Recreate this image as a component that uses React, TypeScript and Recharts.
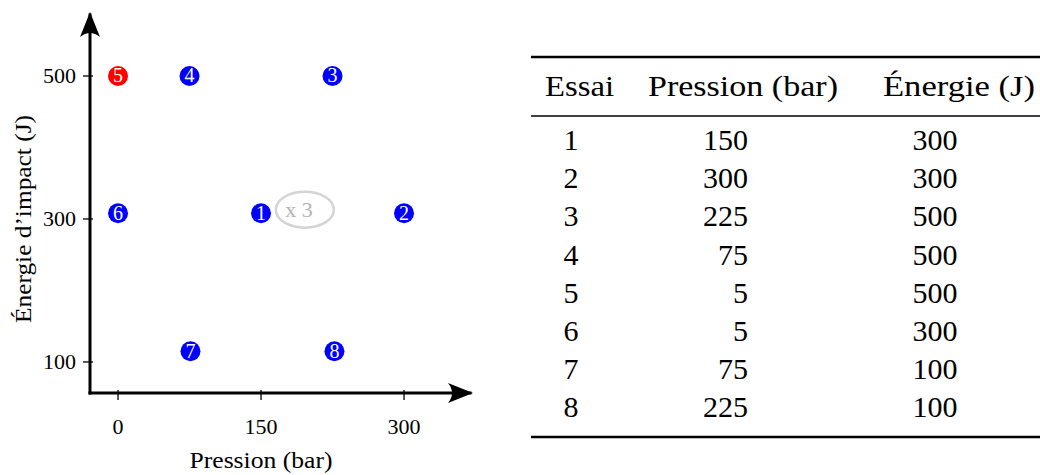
import React from 'react';
import { ScatterChart, Scatter, XAxis, YAxis, ReferenceDot } from 'recharts';

// Test plan (table values)
const essais = [1, 2, 3, 4, 5, 6, 7, 8];
const pressionBar = [150, 300, 225, 75, 5, 5, 75, 225];
const energieJ = [300, 300, 500, 500, 500, 300, 100, 100];

// Where each test sits on the left plot
const pressionPlot = [150, 300, 225, 75, 0, 0, 76, 227];
const energiePlot = [308, 308, 500, 500, 500, 308, 115, 115];

const xTicks = [0, 150, 300];
const yTicks = [100, 300, 500];
const tableHeaders = ['Essai', 'Pression (bar)', 'Énergie (J)'];

const highlightedEssai = 5;
const repeatLabel = 'x 3';
const repeatX = 196;
const repeatY = 313;

const serif = '"Liberation Serif", "DejaVu Serif", serif';

const points = essais.map((essai, i) => ({
  essai,
  x: pressionPlot[i],
  y: energiePlot[i],
}));

const Marker = (props: any) => {
  const { cx, cy, payload } = props;
  const fill = payload.essai === highlightedEssai ? '#ff0000' : '#0000ff';
  return (
    <g>
      <circle cx={cx} cy={cy} r={10} fill={fill} />
      <text x={cx} y={cy + 6.5} textAnchor="middle" fill="#fff" fontSize={20} fontFamily={serif}>
        {payload.essai}
      </text>
    </g>
  );
};

const XTick = (props: any) => {
  const { x, y, payload } = props;
  return (
    <g>
      <line x1={x} x2={x} y1={y - 5} y2={y + 5} stroke="#000" strokeWidth={1.3} />
      <text x={x} y={y + 39} textAnchor="middle" fontSize={22} fontFamily={serif} fill="#000">
        {payload.value}
      </text>
    </g>
  );
};

const YTick = (props: any) => {
  const { x, y, payload } = props;
  return (
    <g>
      <line x1={x - 5} x2={x + 5} y1={y} y2={y} stroke="#000" strokeWidth={1.3} />
      <text x={x - 12} y={y + 7} textAnchor="end" fontSize={22} fontFamily={serif} fill="#000">
        {payload.value}
      </text>
    </g>
  );
};

const XTitle = (props: any) => {
  const vb = props.viewBox;
  return (
    <text
      x={vb.x + vb.width / 2 - 19}
      y={vb.y + 75}
      textAnchor="middle"
      fontSize={23}
      fontFamily={serif}
      fill="#000"
      textLength={143}
      lengthAdjust="spacingAndGlyphs"
    >
      Pression (bar)
    </text>
  );
};

const YTitle = (props: any) => {
  const vb = props.viewBox;
  const bx = vb.x + 31;
  const cy = vb.y + vb.height / 2 + 15;
  return (
    <text
      x={bx}
      y={cy}
      transform={`rotate(-90, ${bx}, ${cy})`}
      textAnchor="middle"
      fontSize={23}
      fontFamily={serif}
      fill="#000"
      textLength={208}
      lengthAdjust="spacingAndGlyphs"
    >
      Énergie d’impact (J)
    </text>
  );
};

const RepeatBadge = (props: any) => {
  const { cx, cy } = props;
  return (
    <g>
      <ellipse cx={cx} cy={cy} rx={29} ry={18} fill="none" stroke="#d4d4d4" strokeWidth={2.5} />
      <text x={cx - 6} y={cy + 7} textAnchor="middle" fontSize={22} fontFamily={serif} fill="#b3b3b3">
        {repeatLabel}
      </text>
    </g>
  );
};

const axisLine = (marker: string) => ({
  stroke: '#000',
  strokeWidth: 3,
  strokeLinecap: 'square',
  [marker]: 'url(#axisArrow)',
});

const TestTable = () => {
  const rowTop = 150;
  const rowH = 38.2;
  return (
    <svg width={520} height={475} style={{ position: 'absolute', left: 520, top: 0 }}>
      <g fontFamily={serif} fontSize={30} fill="#000">
        <line x1={11} x2={520} y1={57} y2={57} stroke="#000" strokeWidth={2.4} />
        <text x={25} y={96} textLength={69} lengthAdjust="spacingAndGlyphs">{tableHeaders[0]}</text>
        <text x={128} y={96} textLength={190} lengthAdjust="spacingAndGlyphs">{tableHeaders[1]}</text>
        <text x={363} y={96} textLength={152} lengthAdjust="spacingAndGlyphs">{tableHeaders[2]}</text>
        <line x1={11} x2={520} y1={116} y2={116} stroke="#000" strokeWidth={1.5} />
        {essais.map((essai, i) => (
          <g key={essai}>
            <text x={51} y={rowTop + i * rowH} textAnchor="middle">{essai}</text>
            <text x={228} y={rowTop + i * rowH} textAnchor="end">{pressionBar[i]}</text>
            <text x={415} y={rowTop + i * rowH} textAnchor="middle">{energieJ[i]}</text>
          </g>
        ))}
        <line x1={11} x2={520} y1={437} y2={437} stroke="#000" strokeWidth={2.4} />
      </g>
    </svg>
  );
};

export default function App() {
  return (
    <div style={{ position: 'absolute', left: 0, top: 0, width: 1040, height: 475, background: '#fff' }}>
      <svg width={0} height={0} style={{ position: 'absolute' }}>
        <defs>
          <marker
            id="axisArrow"
            viewBox="-26 -11 30 22"
            markerWidth={30}
            markerHeight={22}
            refX={-3}
            refY={0}
            orient="auto-start-reverse"
            markerUnits="userSpaceOnUse"
          >
            <path d="M0,0 L-25,-10 Q-17,0 -25,10 Z" fill="#000" />
          </marker>
        </defs>
      </svg>
      <div style={{ position: 'absolute', left: 0, top: 0 }}>
        <ScatterChart width={480} height={475} margin={{ top: 15, right: 10, bottom: 0, left: 0 }}>
          <XAxis
            dataKey="x"
            type="number"
            domain={[-29.4, 369.2]}
            allowDataOverflow
            ticks={xTicks}
            interval={0}
            height={82}
            tickSize={0}
            tickLine={false}
            tick={XTick}
            axisLine={axisLine('markerEnd') as any}
            label={XTitle}
          />
          <YAxis
            dataKey="y"
            type="number"
            domain={[56.6, 585.3]}
            allowDataOverflow
            ticks={yTicks}
            interval={0}
            width={90}
            tickSize={0}
            tickLine={false}
            tick={YTick}
            axisLine={axisLine('markerStart') as any}
            label={YTitle}
          />
          <ReferenceDot x={repeatX} y={repeatY} r={1} shape={RepeatBadge} />
          <Scatter data={points} shape={Marker} isAnimationActive={false} />
        </ScatterChart>
      </div>
      <TestTable />
    </div>
  );
}
